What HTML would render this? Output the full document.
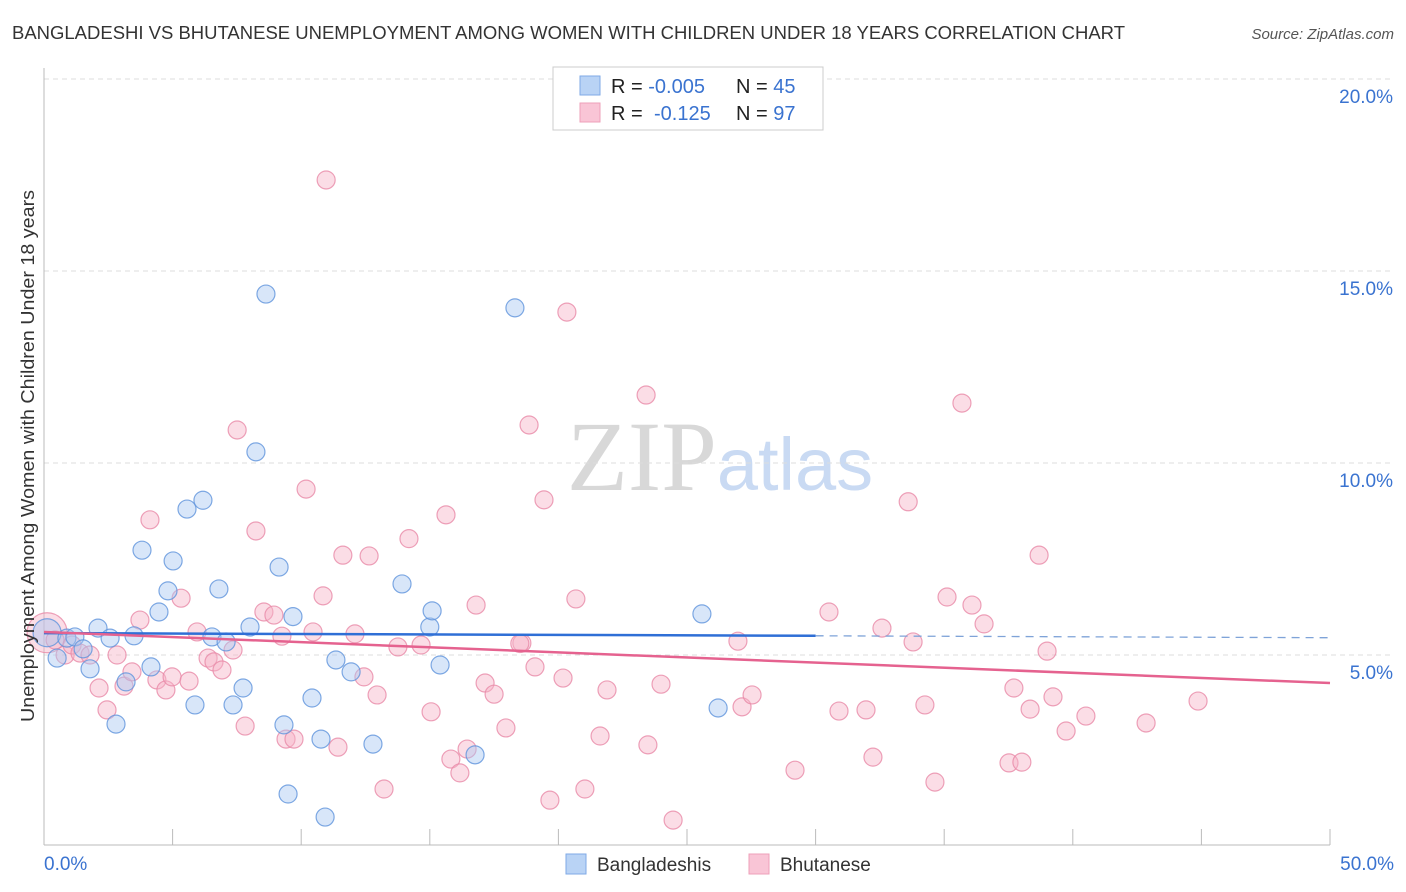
<!DOCTYPE html>
<html><head><meta charset="utf-8"><style>
body{margin:0;background:#fff;font-family:"Liberation Sans",sans-serif;}
svg{display:block}
</style></head><body>
<svg id="chart" width="1406" height="892" xmlns="http://www.w3.org/2000/svg">
<text x="12" y="39" font-size="18" fill="#333" textLength="1113" lengthAdjust="spacingAndGlyphs">BANGLADESHI VS BHUTANESE UNEMPLOYMENT AMONG WOMEN WITH CHILDREN UNDER 18 YEARS CORRELATION CHART</text>
<text x="1394" y="39" font-size="15" fill="#555" text-anchor="end" font-style="italic">Source: ZipAtlas.com</text>
<text x="720" y="490" font-size="100" text-anchor="middle" font-family="Liberation Serif" fill="#ddd"><tspan fill="#d8d8d8">ZIP</tspan><tspan font-family="Liberation Sans" font-size="74" fill="#c9daf3">atlas</tspan></text>
<g id="grid"></g>
<g id="axes"></g>
<g id="pts"></g>
<g id="trend"></g>
<text transform="translate(34,456) rotate(-90)" font-size="18" fill="#333" text-anchor="middle" textLength="532" lengthAdjust="spacingAndGlyphs">Unemployment Among Women with Children Under 18 years</text>
<g>
<rect x="553" y="67" width="270" height="63" fill="#fff" stroke="#ccc"/>
<rect x="580" y="76" width="20" height="19" fill="#b9d3f5" stroke="#7fa9e6"/>
<rect x="580" y="103" width="20" height="19" fill="#f9c5d6" stroke="#eea0b9"/>
<text x="611" y="93" font-size="20" fill="#222">R = <tspan fill="#3a73d0">-0.005</tspan><tspan x="736">N = </tspan><tspan fill="#3a73d0">45</tspan></text>
<text x="611" y="120" font-size="20" fill="#222">R = <tspan x="654" fill="#3a73d0">-0.125</tspan><tspan x="736">N = </tspan><tspan fill="#3a73d0">97</tspan></text>
</g>
<g>
<rect x="566" y="854" width="20" height="20" fill="#b9d3f5" stroke="#7fa9e6"/>
<text x="597" y="871" font-size="19" fill="#333">Bangladeshis</text>
<rect x="749" y="854" width="20" height="20" fill="#f9c5d6" stroke="#eea0b9"/>
<text x="780" y="871" font-size="19" fill="#333">Bhutanese</text>
</g>
</svg>
<script>
const xTicks=[0,50];
const yTicks=[5,10,15,20];
const bluePts=[[0.12,5.58],[0.51,4.92],[0.89,5.44],[1.2,5.47],[1.52,5.16],[1.79,4.64],[2.1,5.7],[2.57,5.44],[2.8,3.2],[3.19,4.3],[3.5,5.5],[3.81,7.73],[4.16,4.69],[4.47,6.12],[4.82,6.67],[5.02,7.45],[5.56,8.8],[5.87,3.7],[6.18,9.03],[6.53,5.47],[6.8,6.72],[7.08,5.34],[7.35,3.7],[7.74,4.14],[8.01,5.73],[8.24,10.29],[8.63,14.4],[9.14,7.29],[9.33,3.18],[9.49,1.38],[9.68,6.0],[10.42,3.88],[10.77,2.81],[10.93,0.78],[11.35,4.87],[11.94,4.56],[12.79,2.68],[13.92,6.85],[15.0,5.73],[15.09,6.15],[15.4,4.74],[16.76,2.4],[18.31,14.04],[25.58,6.07],[26.21,3.62]];
const pinkPts=[[0.12,5.58],[0.43,5.39],[0.82,5.0],[1.09,5.26],[1.4,5.05],[1.79,5.0],[2.14,4.14],[2.45,3.57],[2.84,5.0],[3.11,4.19],[3.42,4.56],[3.73,5.91],[4.12,8.52],[4.39,4.35],[4.74,4.09],[4.98,4.43],[5.33,6.48],[5.64,4.32],[5.95,5.6],[6.38,4.92],[6.61,4.82],[6.92,4.61],[7.35,5.13],[7.51,10.86],[7.82,3.15],[8.24,8.23],[8.55,6.12],[8.94,6.04],[9.25,5.49],[9.41,2.81],[9.72,2.81],[10.19,9.32],[10.46,5.6],[10.85,6.54],[10.97,17.37],[11.43,2.6],[11.62,7.6],[12.09,5.55],[12.44,4.43],[12.64,7.58],[12.95,3.96],[13.22,1.51],[13.76,5.21],[14.19,8.03],[14.66,5.26],[15.05,3.52],[15.63,8.65],[15.82,2.29],[16.17,1.93],[16.45,2.55],[16.8,6.3],[17.15,4.27],[17.5,3.98],[17.96,3.1],[18.58,5.31],[18.86,10.99],[19.09,4.69],[19.44,9.04],[19.67,1.22],[20.18,4.4],[20.33,13.93],[20.68,6.46],[21.03,1.51],[21.62,2.89],[21.89,4.09],[23.48,2.66],[23.41,11.77],[23.99,4.24],[24.46,0.7],[26.98,5.36],[27.14,3.65],[27.53,3.96],[29.2,2.0],[30.52,6.12],[30.91,3.54],[31.96,3.57],[32.23,2.34],[32.58,5.7],[33.79,5.34],[34.25,3.7],[34.64,1.69],[35.11,6.51],[35.69,11.56],[36.08,6.3],[36.55,5.81],[37.52,2.19],[37.71,4.14],[38.02,2.21],[38.34,3.59],[38.69,7.6],[39.0,5.1],[39.23,3.91],[39.74,3.02],[40.51,3.41],[42.85,3.23],[44.87,3.8],[33.6,8.99],[18.5,5.3]];
const blueTrend=[0,5.57,30,5.5,50,5.45];
const pinkTrend=[0,5.6,50,4.27];
const X0=44,X1=1330,Y0=847,PY=38.4;
const xs=v=>X0+(X1-X0)*v/50, ys=v=>Y0-v*PY;
const NS='http://www.w3.org/2000/svg';
function mk(t,a,p){const e=document.createElementNS(NS,t);for(const k in a)e.setAttribute(k,a[k]);p.appendChild(e);return e;}
const grid=document.getElementById('grid'),axes=document.getElementById('axes'),pts=document.getElementById('pts'),tr=document.getElementById('trend');
yTicks.forEach(v=>{
 const l=mk('line',{x1:44,x2:1394,y1:ys(v),y2:ys(v),stroke:'#ddd','stroke-dasharray':'5,4'},grid);
 
 
 const t=mk('text',{x:1393,y:ys(v)+24,'font-size':19,fill:'#3a73d0','text-anchor':'end'},axes);
 t.textContent=v.toFixed(1)+'%';
 
 
});
mk('line',{x1:44,x2:44,y1:68,y2:845,stroke:'#bbb'},axes);
mk('line',{x1:44,x2:1330,y1:845,y2:845,stroke:'#bbb'},axes);
for(let i=0;i<=10;i++){const x=xs(i*5);mk('line',{x1:x,x2:x,y1:829,y2:845,stroke:'#bbb'},axes);}
xTicks.forEach((v,i)=>{
 const t=mk('text',{x:i?1394:44,y:870,'font-size':19,fill:'#3a73d0','text-anchor':i?'end':'start'},axes);
 t.textContent=v.toFixed(1)+'%';
 
 
});
function dots(arr,fill,stroke,name){arr.forEach((p,i)=>{
 const r=(i===0)?(name==='pink-point'?20:14):9;
 const c=mk('circle',{cx:xs(p[0]),cy:ys(p[1]),r:r,fill:fill,'fill-opacity':0.45,stroke:stroke,'stroke-opacity':0.8,'stroke-width':1.2},pts);
 
 
});}
dots(pinkPts,'#f6b3c8','#e88aa8','pink-point');
dots(bluePts,'#a9c8f1','#5f93dc','blue-point');
const b1=mk('line',{x1:xs(blueTrend[0]),y1:ys(blueTrend[1]),x2:xs(blueTrend[2]),y2:ys(blueTrend[3]),stroke:'#2f6fd6','stroke-width':2.5},tr);


const b2=mk('line',{x1:xs(blueTrend[2]),y1:ys(blueTrend[3]),x2:xs(blueTrend[4]),y2:ys(blueTrend[5]),stroke:'#7fa3d8','stroke-width':1.3,'stroke-dasharray':'8,6'},tr);


const p1=mk('line',{x1:xs(pinkTrend[0]),y1:ys(pinkTrend[1]),x2:xs(pinkTrend[2]),y2:ys(pinkTrend[3]),stroke:'#e5628f','stroke-width':2.5},tr);


</script>
</body></html>
